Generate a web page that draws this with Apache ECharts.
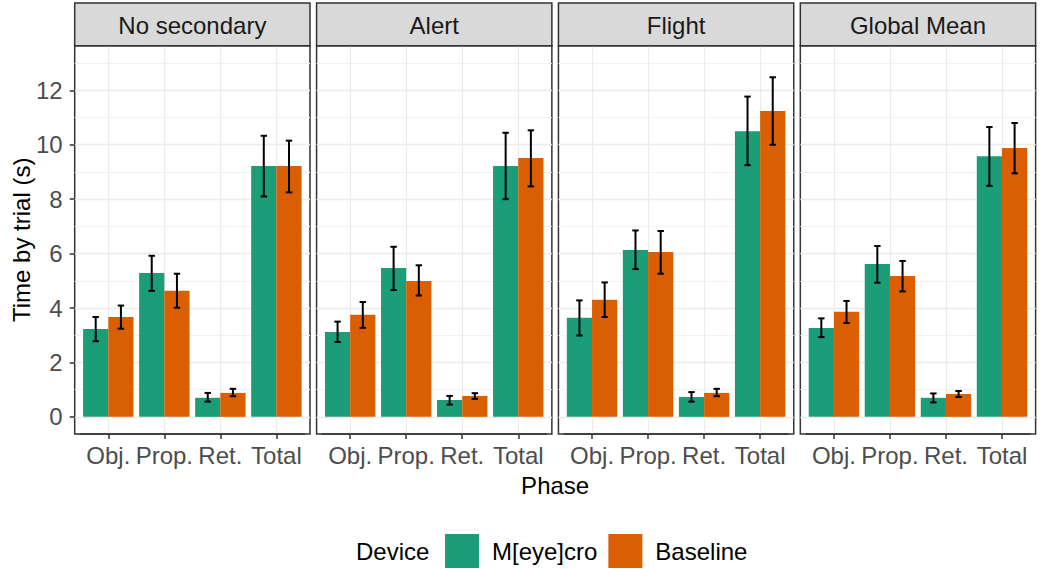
<!DOCTYPE html>
<html><head><meta charset="utf-8">
<script src="https://cdn.jsdelivr.net/npm/echarts@6/dist/echarts.min.js"></script>
<style>html,body{margin:0;padding:0;background:#fff}#c{width:1041px;height:569px}</style>
</head><body><div id="c"></div>
<script>
// ---- data ----
const panels = ['No secondary', 'Alert', 'Flight', 'Global Mean'];
const phases = ['Obj.', 'Prop.', 'Ret.', 'Total'];
const devices = ['M[eye]cro', 'Baseline'];
const yTicks = [0, 2, 4, 6, 8, 10, 12];
const yMinorTicks = [1, 3, 5, 7, 9, 11, 13];

// rows = panels, columns = phases
const meyecroMean = [[3.23, 5.29, 0.70, 9.22], [3.12, 5.47, 0.62, 9.22], [3.64, 6.13, 0.73, 10.50], [3.27, 5.62, 0.70, 9.58]];
const meyecroLow  = [[2.78, 4.63, 0.56, 8.10], [2.75, 4.66, 0.45, 8.00], [2.99, 5.43, 0.56, 9.25], [2.93, 4.93, 0.53, 8.49]];
const meyecroHigh = [[3.67, 5.92, 0.88, 10.33], [3.50, 6.25, 0.77, 10.44], [4.28, 6.85, 0.91, 11.77], [3.62, 6.28, 0.86, 10.65]];
const baselineMean = [[3.67, 4.63, 0.88, 9.22], [3.75, 4.99, 0.77, 9.51], [4.30, 6.06, 0.88, 11.24], [3.86, 5.18, 0.84, 9.88]];
const baselineLow  = [[3.24, 4.01, 0.76, 8.25], [3.27, 4.46, 0.66, 8.47], [3.67, 5.26, 0.76, 10.00], [3.45, 4.61, 0.73, 8.95]];
const baselineHigh = [[4.09, 5.26, 1.03, 10.15], [4.22, 5.57, 0.87, 10.53], [4.94, 6.83, 1.03, 12.48], [4.26, 5.73, 0.95, 10.80]];

// ---- layout / style ----
const FONT = '"Liberation Sans", Arial, sans-serif';
const COLORS = ['#1B9E77', '#D95F02'];
const PANEL_L0 = 74.7, PANEL_W = 235.3, PANEL_STEP = 241.87;
const PANEL_T = 45.7, PANEL_B = 434, STRIP_T = 3;
const Y_MIN = -0.63, Y_MAX = 13.64;
const EXPAND = 0.6; // discrete axis expansion, in category units
const GRID_LINE = '#EBEBEB';
const FRAME = '#333333';

const chart = echarts.init(document.getElementById('c'), null, { renderer: 'svg' });

const grid = [], xAxis = [], yAxis = [], series = [], graphic = [];

function errRender(side) {
  return function (params, api) {
    const x = api.value(0), lo = api.value(1), hi = api.value(2);
    const band = api.size([1, 0])[0];
    const pHi = api.coord([x, hi]);
    const pLo = api.coord([x, lo]);
    const cx = pHi[0] + side * band * 0.225;
    const hw = 3.2;
    const st = { stroke: '#000', lineWidth: 2 };
    return {
      type: 'group',
      children: [
        { type: 'line', shape: { x1: cx, y1: pHi[1], x2: cx, y2: pLo[1] }, style: st },
        { type: 'line', shape: { x1: cx - hw, y1: pHi[1], x2: cx + hw, y2: pHi[1] }, style: st },
        { type: 'line', shape: { x1: cx - hw, y1: pLo[1], x2: cx + hw, y2: pLo[1] }, style: st }
      ]
    };
  };
}

panels.forEach((pname, i) => {
  const L = PANEL_L0 + i * PANEL_STEP;
  const catW = PANEL_W / (phases.length - 1 + 2 * EXPAND);
  const o = 2 * i, n = 2 * i + 1;
  // outer frame grid (horizontal gridlines + border + y axis)
  grid.push({ left: L, top: PANEL_T, width: PANEL_W, height: PANEL_B - PANEL_T,
    show: true, borderColor: FRAME, borderWidth: 1.5, backgroundColor: 'transparent',
    containLabel: false, outerBoundsMode: 'none' });
  // inner grid for bars
  grid.push({ left: L + (EXPAND - 0.5) * catW, top: PANEL_T, width: catW * phases.length, height: PANEL_B - PANEL_T,
    show: false, containLabel: false, outerBoundsMode: 'none' });

  xAxis.push({ gridIndex: o, type: 'value', min: 0, max: 1, show: false });
  xAxis.push({ gridIndex: n, type: 'category', data: phases, position: 'bottom',
    axisLine: { show: true, onZero: false, lineStyle: { color: FRAME, width: 1.5 } },
    axisTick: { show: true, alignWithLabel: true, length: 5, lineStyle: { color: FRAME, width: 1.5 } },
    axisLabel: { interval: 0, color: '#4D4D4D', fontSize: 24, fontFamily: FONT, margin: 9, overflow: 'none', hideOverlap: false },
    splitLine: { show: true, alignWithLabel: true, interval: 0, lineStyle: { color: GRID_LINE, width: 1.2 } }
  });

  // minor horizontal gridlines
  yAxis.push({ gridIndex: o, type: 'value', position: 'left', min: Y_MIN, max: Y_MAX,
    axisLine: { show: false },
    axisTick: { show: false, customValues: yMinorTicks },
    axisLabel: { show: false, customValues: yMinorTicks },
    splitLine: { show: true, lineStyle: { color: '#F2F2F2', width: 1 } }
  });
  // major horizontal gridlines + labels
  yAxis.push({ gridIndex: o, type: 'value', position: 'left', offset: 0, min: Y_MIN, max: Y_MAX,
    axisLine: { show: false },
    axisTick: { show: i === 0, length: 5, customValues: yTicks, lineStyle: { color: FRAME, width: 1.5 } },
    axisLabel: { show: i === 0, customValues: yTicks, color: '#4D4D4D', fontSize: 24, fontFamily: FONT, margin: 12 },
    splitLine: { show: true, lineStyle: { color: GRID_LINE, width: 1.3 } }
  });
  const yInner = yAxis.length;
  yAxis.push({ gridIndex: n, type: 'value', position: 'left', min: Y_MIN, max: Y_MAX, show: false, splitLine: { show: false } });
  const xInner = n;

  series.push({ type: 'bar', name: devices[0], xAxisIndex: xInner, yAxisIndex: yInner,
    data: meyecroMean[i], itemStyle: { color: COLORS[0] }, barGap: '0%', barCategoryGap: '10%', z: 2 });
  series.push({ type: 'bar', name: devices[1], xAxisIndex: xInner, yAxisIndex: yInner,
    data: baselineMean[i], itemStyle: { color: COLORS[1] }, barGap: '0%', barCategoryGap: '10%', z: 2 });
  series.push({ type: 'custom', name: 'err-m-' + i, xAxisIndex: xInner, yAxisIndex: yInner, z: 5,
    renderItem: errRender(-1), encode: { x: 0, y: [1, 2] },
    data: phases.map((p, j) => [j, meyecroLow[i][j], meyecroHigh[i][j]]) });
  series.push({ type: 'custom', name: 'err-b-' + i, xAxisIndex: xInner, yAxisIndex: yInner, z: 5,
    renderItem: errRender(1), encode: { x: 0, y: [1, 2] },
    data: phases.map((p, j) => [j, baselineLow[i][j], baselineHigh[i][j]]) });

  // facet strip
  graphic.push({ type: 'rect', shape: { x: L, y: STRIP_T, width: PANEL_W, height: PANEL_T - STRIP_T },
    style: { fill: '#D9D9D9', stroke: FRAME, lineWidth: 1.5 }, z: 10 });
  graphic.push({ type: 'text', x: L + PANEL_W / 2, y: (STRIP_T + PANEL_T) / 2 + 1, z: 11,
    style: { text: pname, fill: '#1A1A1A', fontSize: 24, fontFamily: FONT,
      align: 'center', verticalAlign: 'middle', textAlign: 'center', textVerticalAlign: 'middle' } });
});

// axis titles & legend title
const plotCenterX = (PANEL_L0 + PANEL_L0 + 3 * PANEL_STEP + PANEL_W) / 2;
graphic.push({ type: 'text', x: plotCenterX, y: 485, style: { text: 'Phase', fill: '#000', fontSize: 24, fontFamily: FONT,
  align: 'center', verticalAlign: 'middle', textAlign: 'center', textVerticalAlign: 'middle' } });
graphic.push({ type: 'text', x: 21, y: (PANEL_T + PANEL_B) / 2, rotation: Math.PI / 2,
  style: { text: 'Time by trial (s)', fill: '#000', fontSize: 24, fontFamily: FONT,
  align: 'center', verticalAlign: 'middle', textAlign: 'center', textVerticalAlign: 'middle' } });
graphic.push({ type: 'text', x: 356, y: 551, style: { text: 'Device', fill: '#000', fontSize: 24, fontFamily: FONT,
  align: 'left', verticalAlign: 'middle', textAlign: 'left', textVerticalAlign: 'middle' } });

chart.setOption({
  animation: false,
  backgroundColor: '#ffffff',
  grid, xAxis, yAxis, series, graphic,
  legend: { data: devices, left: 445, top: 534, padding: 0, itemWidth: 34, itemHeight: 34, itemGap: 11,
    icon: 'rect', selectedMode: false,
    textStyle: { fontSize: 24, color: '#000', fontFamily: FONT, padding: [0, 0, 0, 8] } }
});
</script></body></html>
